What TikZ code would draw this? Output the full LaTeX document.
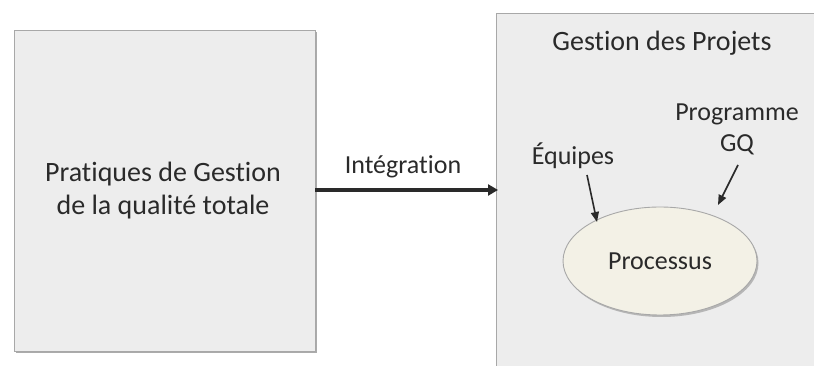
\documentclass[tikz,border=0pt]{standalone}
\usepackage{fontspec}
\setmainfont{Carlito}[Ligatures=NoCommon]
\usetikzlibrary{shapes.geometric,arrows.meta,shadows}
\definecolor{panel}{HTML}{EDEDED}
\definecolor{panelline}{HTML}{A8A8A8}
\definecolor{bubble}{HTML}{F3F1E6}
\definecolor{ink}{HTML}{2A2A2A}
\tikzset{
  panelbox/.style={draw=panelline, line width=0.9pt, fill=panel,
    drop shadow={shadow xshift=2pt, shadow yshift=-2pt, fill=black!55, opacity=0.6}},
  lbl/.style={text=ink, font=\fontsize{28}{33}\selectfont, align=center, inner sep=0pt},
  slbl/.style={text=ink, font=\fontsize{26}{31}\selectfont, align=center, inner sep=0pt},
  link/.style={draw=ink, line width=3.5pt, -{Triangle[length=10pt,width=11pt]}},
  thin/.style={draw=ink, line width=1.6pt, -{Triangle[length=10pt,width=8pt]}},
}
\begin{document}
\begin{tikzpicture}[x=1pt,y=1pt]
  \useasboundingbox (0,0) rectangle (814,366);
  % left panel
  \node[panelbox, minimum width=301pt, minimum height=321pt, anchor=north west] (tqm) at (14,336) {};
  \node[lbl] (tqmtxt) at (163,175) {Pratiques de Gestion\\de la qualité totale};
  % right panel (runs off the bottom and right edges)
  \node[panelbox, minimum width=330pt, minimum height=370pt, anchor=north west] (gp) at (496,353) {};
  \node[lbl] (gptitle) at (662,323) {Gestion des Projets};
  % integration arrow
  \coordinate (start) at (315,176);
  \coordinate (stop) at (498,176);
  \draw[link] (start) -- (stop);
  \node[slbl] (integ) at (403,199) {Intégration};
  % process ellipse
  \node[ellipse, draw=panelline, line width=0.9pt, fill=bubble,
        minimum width=194pt, minimum height=108pt,
        drop shadow={shadow xshift=1.5pt, shadow yshift=-2pt, fill=black!50, opacity=0.5}] (proc) at (660,105) {};
  \node[slbl] (proctxt) at (proc.center) {Processus};
  % inputs
  \node[slbl] (eq) at (573,210) {Équipes};
  \node[slbl] (prog) at (737,237) {Programme\\GQ};
  \coordinate (eqs) at (587,191);
  \coordinate (eqe) at (597,144);
  \coordinate (prs) at (738,201);
  \coordinate (pre) at (718,161);
  \draw[thin] (eqs) -- (eqe);
  \draw[thin] (prs) -- (pre);
\end{tikzpicture}
\end{document}
